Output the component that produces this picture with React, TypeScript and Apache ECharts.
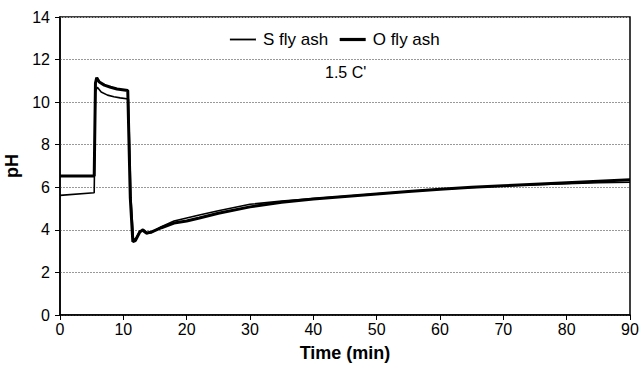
import React, { useEffect, useRef } from "react";
import * as echarts from "echarts";

const xTicks = [0, 10, 20, 30, 40, 50, 60, 70, 80, 90];
const yTicks = [0, 2, 4, 6, 8, 10, 12, 14];

const sFlyAshTime = [0, 5.4, 5.6, 5.9, 6.5, 7.5, 8.5, 9.5, 10.8, 11.2, 11.6, 12.0, 12.6, 13.0, 13.6, 14.5, 16, 18, 20, 22, 25, 30, 35, 40, 45, 50, 55, 60, 65, 70, 75, 80, 85, 90];
const sFlyAshPH = [5.62, 5.74, 10.5, 10.7, 10.48, 10.33, 10.25, 10.2, 10.15, 5.5, 3.55, 3.6, 3.95, 3.95, 3.82, 3.88, 4.15, 4.42, 4.56, 4.7, 4.9, 5.2, 5.35, 5.47, 5.58, 5.69, 5.8, 5.91, 5.99, 6.06, 6.12, 6.17, 6.21, 6.24];

const oFlyAshTime = [0, 5.4, 5.6, 5.8, 6.2, 7, 8, 9, 10.7, 11.1, 11.5, 11.9, 12.6, 13.1, 13.7, 14.5, 16, 18, 20, 22, 25, 30, 35, 40, 45, 50, 55, 60, 65, 70, 75, 80, 85, 90];
const oFlyAshPH = [6.53, 6.53, 10.9, 11.15, 10.95, 10.8, 10.7, 10.62, 10.55, 5.5, 3.45, 3.5, 3.9, 4.0, 3.85, 3.9, 4.1, 4.32, 4.42, 4.56, 4.78, 5.08, 5.3, 5.45, 5.57, 5.69, 5.8, 5.91, 6.0, 6.07, 6.14, 6.21, 6.28, 6.35];

const seriesNames = ["S fly ash", "O fly ash"];
const annotation = "1.5 C'";

export default function App() {
  const ref = useRef<HTMLDivElement>(null);
  useEffect(() => {
    if (!ref.current) return;
    const chart = echarts.init(ref.current, undefined, { renderer: "svg" });
    const font = "'Liberation Sans', Arial, sans-serif";
    chart.setOption({
      animation: false,
      backgroundColor: "#fff",
      textStyle: { fontFamily: font },
      grid: {
        left: 60,
        right: 11,
        top: 17,
        bottom: 50,
        outerBoundsMode: "none",
        containLabel: false,
        show: true,
        borderColor: "#000",
        borderWidth: 1.5,
        backgroundColor: "transparent",
      },
      legend: {
        top: 26,
        left: 224,
        itemWidth: 26,
        itemHeight: 10,
        itemGap: 10,
        itemStyle: { opacity: 0 },
        textStyle: { fontSize: 17, color: "#000", fontFamily: font, padding: [0, 0, 0, 2] },
        data: [
          { name: seriesNames[0], lineStyle: { width: 1.8, color: "#000" } },
          { name: seriesNames[1], lineStyle: { width: 3.2, color: "#000" } },
        ],
      },
      graphic: [
        {
          type: "text",
          left: 325,
          top: 64,
          style: { text: annotation, fontSize: 16, fill: "#000", fontFamily: font },
        },
      ],
      xAxis: {
        type: "value",
        min: 0,
        max: 90,
        interval: 10,
        name: "Time (min)",
        nameLocation: "middle",
        nameGap: 29,
        nameTextStyle: { fontSize: 18, fontWeight: "bold", color: "#000", fontFamily: font },
        axisLine: { show: true, lineStyle: { color: "#000", width: 1.5 } },
        axisTick: { show: true, length: 5, lineStyle: { color: "#000" } },
        axisLabel: { fontSize: 16, color: "#000", margin: 6, fontFamily: font },
        splitLine: { show: false },
      },
      yAxis: {
        type: "value",
        min: 0,
        max: 14,
        interval: 2,
        name: "pH",
        nameLocation: "middle",
        nameGap: 37,
        nameRotate: 90,
        nameTextStyle: { fontSize: 18, fontWeight: "bold", color: "#000", fontFamily: font },
        axisLine: { show: true, lineStyle: { color: "#000", width: 1.5 } },
        axisTick: { show: true, length: 5, lineStyle: { color: "#000" } },
        axisLabel: { fontSize: 16, color: "#000", margin: 10, fontFamily: font },
        splitLine: { show: true, lineStyle: { color: "#999", type: [2, 1], width: 1 } },
      },
      series: [
        {
          name: seriesNames[0],
          type: "line",
          symbol: "none",
          smooth: false,
          color: "#000",
          lineStyle: { color: "#000", width: 1.6 },
          data: sFlyAshTime.map((t, i) => [t, sFlyAshPH[i]]),
        },
        {
          name: seriesNames[1],
          type: "line",
          symbol: "none",
          smooth: false,
          color: "#000",
          lineStyle: { color: "#000", width: 3 },
          data: oFlyAshTime.map((t, i) => [t, oFlyAshPH[i]]),
        },
      ],
    });
    return () => chart.dispose();
  }, []);
  return <div ref={ref} style={{ width: 641, height: 365, position: "absolute", left: 0, top: 0 }} />;
}
